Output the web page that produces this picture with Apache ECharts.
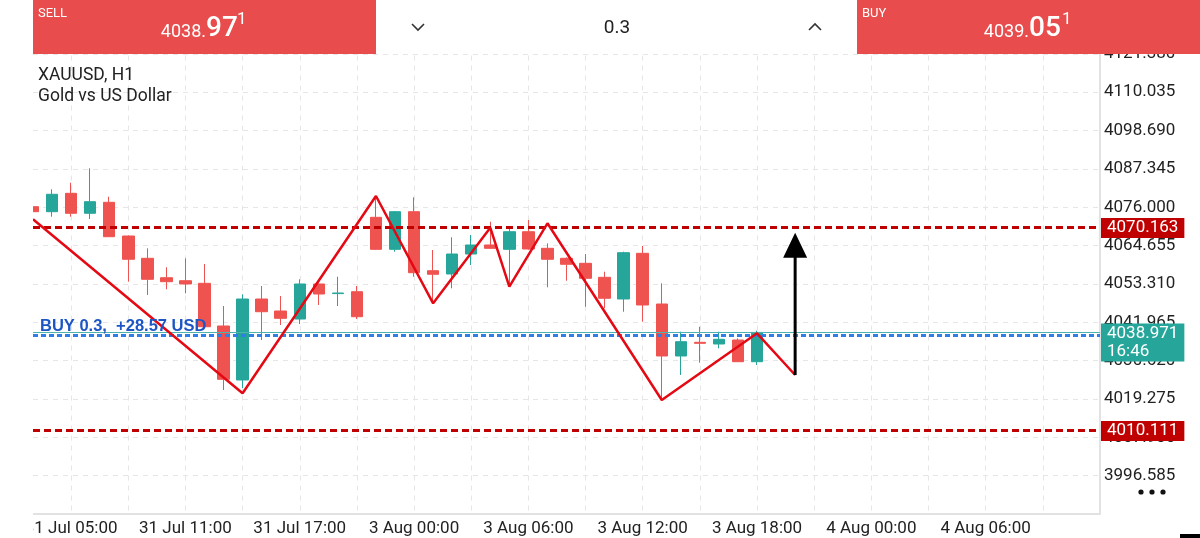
<!DOCTYPE html>
<html><head><meta charset="utf-8">
<script src="https://cdn.jsdelivr.net/npm/echarts@6/dist/echarts.min.js"></script>
<style>html,body{margin:0;padding:0;background:#fff}#c{width:1200px;height:538px}</style>
</head><body><div id="c"></div>
<script>
// ---------- data ----------
const categories = [
  '31 Jul 03:00','31 Jul 04:00','31 Jul 05:00','31 Jul 06:00','31 Jul 07:00','31 Jul 08:00',
  '31 Jul 09:00','31 Jul 10:00','31 Jul 11:00','31 Jul 12:00','31 Jul 13:00','31 Jul 14:00',
  '31 Jul 15:00','31 Jul 16:00','31 Jul 17:00','31 Jul 18:00','31 Jul 19:00','31 Jul 20:00',
  '2 Aug 22:00','2 Aug 23:00','3 Aug 00:00','3 Aug 01:00','3 Aug 02:00','3 Aug 03:00',
  '3 Aug 04:00','3 Aug 05:00','3 Aug 06:00','3 Aug 07:00','3 Aug 08:00','3 Aug 09:00',
  '3 Aug 10:00','3 Aug 11:00','3 Aug 12:00','3 Aug 13:00','3 Aug 14:00','3 Aug 15:00',
  '3 Aug 16:00','3 Aug 17:00','3 Aug 18:00','3 Aug 19:00','3 Aug 20:00','3 Aug 21:00',
  '3 Aug 22:00','3 Aug 23:00','4 Aug 00:00','4 Aug 01:00','4 Aug 02:00','4 Aug 03:00',
  '4 Aug 04:00','4 Aug 05:00','4 Aug 06:00','4 Aug 07:00','4 Aug 08:00','4 Aug 09:00',
  '4 Aug 10:00','4 Aug 11:00','4 Aug 12:00'
];
const openP  = [4076.17,4074.69,4080.13,4074.22,4077.47,4067.50,4060.90,4055.16,4054.27,4053.50,
                4040.87,4024.90,4048.86,4045.31,4042.94,4053.30,4050.46,4051.02,4073.03,4063.56,
                4074.69,4057.23,4056.26,4062.17,4064.84,4063.56,4068.77,4063.86,4060.90,4059.42,
                4055.28,4048.86,4062.38,4047.38,4032.00,4036.05,4035.55,4036.73,4030.31];
const closeP = [4074.69,4079.84,4074.22,4077.65,4067.29,4060.61,4054.69,4053.98,4053.30,4040.66,
                4025.10,4048.86,4045.10,4043.15,4053.30,4050.34,4050.64,4043.62,4063.56,4074.69,
                4056.64,4056.17,4062.17,4064.84,4063.86,4068.77,4063.65,4060.61,4059.13,4054.99,
                4049.07,4062.56,4047.09,4032.00,4036.23,4035.75,4036.94,4030.31,4038.97];
const lowP   = [4074.30,4073.21,4073.21,4072.53,4067.20,4053.98,4050.05,4051.73,4050.55,4040.58,
                4021.94,4022.53,4036.73,4041.17,4041.46,4047.09,4046.79,4042.94,4063.36,4062.86,
                4055.46,4047.77,4052.03,4058.92,4063.65,4052.50,4063.50,4052.32,4054.27,4046.58,
                4046.11,4045.10,4042.14,4018.98,4026.38,4030.02,4034.28,4030.22,4029.34];
const highP  = [4079.13,4081.32,4083.27,4087.53,4079.13,4067.65,4063.86,4058.24,4060.90,4059.22,
                4046.79,4050.25,4052.71,4049.75,4054.69,4053.45,4055.46,4052.71,4079.13,4074.90,
                4078.95,4063.36,4067.12,4067.80,4071.73,4070.25,4072.23,4065.34,4061.14,4062.17,
                4056.94,4062.86,4064.54,4053.50,4039.19,4040.66,4039.19,4037.23,4039.50];
const zigzagIdx = [0, 11, 18, 21, 24, 25, 27, 33, 38, 40];
const zigzagVal = [4072.44,4020.96,4079.33,4047.59,4069.96,4052.50,4071.26,4018.98,4038.71,4026.38];
const arrowIdx = 40, arrowFrom = 4026.38, arrowTo = 4068.48;
const yMin = 3985.24, yStep = 11.345, yMax = 4132.725;
const levelUpper = 4070.163, levelLower = 4010.111;
const bidPrice = 4038.971, bidTime = '16:46';
const buyOpen = 4038.02;
const buyLabel = 'BUY 0.3,  +28.57 USD';
const tagValues = [levelUpper, bidPrice, levelLower];
const tagTexts = ['4070.163', '4038.971\n' + bidTime, '4010.111'];
const symbolName = 'XAUUSD, H1', symbolDesc = 'Gold vs US Dollar';
const sellMain = '4038.', sellBig = '97', sellSup = '1';
const buyMain = '4039.', buyBig = '05', buySup = '1';
const lotText = '0.3';

// ---------- build ----------
const RED = '#ef5350', GREEN = '#26a69a', HDR = '#e84c4c', LVL = '#c00000';
const lastIdx = categories.length - 1;
const candleData = categories.map((c, i) => i < openP.length ? [openP[i], closeP[i], lowP[i], highP[i]] : '-');
const zigzagData = categories.map(() => null);
zigzagIdx.forEach((k, j) => { zigzagData[k] = zigzagVal[j]; });

const chart = echarts.init(document.getElementById('c'), null, {renderer: 'canvas'});
const FONT = 'Roboto';

const option = {
  animation: false,
  backgroundColor: '#fff',
  grid: {left: 33, right: 100, top: 15.54, bottom: 23.96, containLabel: false},
  xAxis: {
    type: 'category', data: categories, boundaryGap: false,
    axisLine: {show: true, lineStyle: {color: '#e2e2e2', width: 2}},
    axisTick: {show: false},
    axisLabel: {
      color: '#222', fontSize: 17, fontFamily: FONT, margin: 6,
      interval: (i) => i % 6 === 2 && i <= 50
    },
    splitLine: {show: true, interval: (i) => i % 3 === 2,
      lineStyle: {color: '#e6e6e6', type: [5, 5], width: 1}}
  },
  yAxis: {
    type: 'value', position: 'right', min: yMin, max: yMax, interval: yStep, scale: true,
    axisLine: {show: true, lineStyle: {color: '#e2e2e2', width: 2}},
    axisTick: {show: false},
    axisLabel: {color: '#222', fontSize: 17, fontFamily: FONT, margin: 4, showMinLabel: false,
      formatter: (v) => v.toFixed(3)},
    splitLine: {show: true, lineStyle: {color: '#e6e6e6', type: [5, 5], width: 1}}
  },
  series: [
    {
      type: 'candlestick', data: candleData, barWidth: 12,
      itemStyle: {color: GREEN, color0: RED, borderColor: GREEN, borderColor0: RED, borderWidth: 1},
      markLine: {
        silent: true, animation: false, symbol: ['none', 'none'], label: {show: false},
        data: [
          {yAxis: levelUpper, lineStyle: {color: LVL, width: 3, type: [7, 4]}},
          {yAxis: levelLower, lineStyle: {color: LVL, width: 3, type: [7, 4]}},
          {yAxis: bidPrice, lineStyle: {color: '#4fb3ad', width: 1, type: 'solid'}},
          {yAxis: buyOpen, lineStyle: {color: '#2f7fe6', width: 3, type: [5, 3]}}
        ]
      }
    },
    {
      type: 'line', data: zigzagData, connectNulls: true, symbol: 'none', z: 5,
      lineStyle: {color: '#e50914', width: 2.5}
    },
    {
      type: 'custom', z: 6, data: [[arrowIdx, arrowFrom, arrowTo]],
      renderItem: (params, api) => {
        const b = api.coord([api.value(0), api.value(1)]);
        const t = api.coord([api.value(0), api.value(2)]);
        const hh = 25, hw = 12;
        return {type: 'group', children: [
          {type: 'line', shape: {x1: b[0], y1: b[1], x2: t[0], y2: t[1] + hh - 1},
           style: {stroke: '#000', lineWidth: 3}},
          {type: 'polygon', shape: {points: [[t[0], t[1]], [t[0] - hw, t[1] + hh], [t[0] + hw, t[1] + hh]]},
           style: {fill: '#000'}}
        ]};
      }
    },
    {
      type: 'custom', z: 8, data: [[0, buyOpen]],
      renderItem: (params, api) => {
        const p = api.coord([api.value(0), api.value(1)]);
        return {type: 'text', x: p[0] + 7, y: p[1] - 1,
          style: {text: buyLabel, fill: '#1d56c4', font: 'bold 16.5px "Liberation Sans", Arial, sans-serif',
            align: 'left', verticalAlign: 'bottom'}};
      }
    },
    {
      type: 'custom', z: 10, data: tagValues.map(v => [lastIdx, v]),
      renderItem: (params, api) => {
        const i = params.dataIndex;
        const p = api.coord([api.value(0), api.value(1)]);
        const teal = i === 1;
        return {type: 'text', x: p[0] + 1, y: teal ? p[1] - 9 : p[1] + 1,
          style: {text: tagTexts[i], fill: '#fff', font: '17px Roboto',
            backgroundColor: teal ? GREEN : LVL, padding: [1, 6, 1, 6], lineHeight: 18,
            align: 'left', verticalAlign: teal ? 'top' : 'middle'}};
      }
    }
  ],
  graphic: [
    {type: 'rect', z: 100, shape: {x: 0, y: 0, width: 33, height: 538}, style: {fill: '#fff'}},
    {type: 'rect', z: 100, shape: {x: 33, y: 0, width: 343, height: 54}, style: {fill: HDR}},
    {type: 'rect', z: 100, shape: {x: 376, y: 0, width: 481, height: 54}, style: {fill: '#fff'}},
    {type: 'rect', z: 100, shape: {x: 857, y: 0, width: 343, height: 54}, style: {fill: HDR}},
    {type: 'text', z: 101, x: 38, y: 7, style: {text: 'SELL', fill: '#fff', font: '13px Roboto'}},
    {type: 'text', z: 101, x: 206, y: 41, style: {text: sellMain, fill: '#fff', font: '18px Roboto', align: 'right', verticalAlign: 'bottom'}},
    {type: 'text', z: 101, x: 206, y: 43, style: {text: sellBig, fill: '#fff', font: '500 28px Roboto', align: 'left', verticalAlign: 'bottom'}},
    {type: 'text', z: 101, x: 237, y: 28, style: {text: sellSup, fill: '#fff', font: '17px Roboto', align: 'left', verticalAlign: 'bottom'}},
    {type: 'text', z: 101, x: 862, y: 7, style: {text: 'BUY', fill: '#fff', font: '13px Roboto'}},
    {type: 'text', z: 101, x: 1029, y: 41, style: {text: buyMain, fill: '#fff', font: '18px Roboto', align: 'right', verticalAlign: 'bottom'}},
    {type: 'text', z: 101, x: 1029, y: 43, style: {text: buyBig, fill: '#fff', font: '500 28px Roboto', align: 'left', verticalAlign: 'bottom'}},
    {type: 'text', z: 101, x: 1062, y: 28, style: {text: buySup, fill: '#fff', font: '17px Roboto', align: 'left', verticalAlign: 'bottom'}},
    {type: 'text', z: 101, x: 617, y: 28, style: {text: lotText, fill: '#222', font: '19px Roboto', align: 'center', verticalAlign: 'middle'}},
    {type: 'polyline', z: 101, shape: {points: [[412, 24], [418, 30], [424, 24]]}, style: {stroke: '#333', lineWidth: 1.6, fill: null}},
    {type: 'polyline', z: 101, shape: {points: [[809, 30], [815, 24], [821, 30]]}, style: {stroke: '#333', lineWidth: 1.6, fill: null}},
    {type: 'text', z: 101, x: 38, y: 67, style: {text: symbolName, fill: '#222', font: '17.5px Roboto'}},
    {type: 'text', z: 101, x: 38, y: 88, style: {text: symbolDesc, fill: '#222', font: '17.5px Roboto'}},
    {type: 'circle', z: 101, shape: {cx: 1141, cy: 492, r: 2.6}, style: {fill: '#111'}},
    {type: 'circle', z: 101, shape: {cx: 1152, cy: 492, r: 2.6}, style: {fill: '#111'}},
    {type: 'circle', z: 101, shape: {cx: 1163, cy: 492, r: 2.6}, style: {fill: '#111'}},
    {type: 'rect', z: 101, shape: {x: 1180, y: 534, width: 20, height: 4}, style: {fill: '#000'}}
  ]
};
chart.setOption(option);
</script></body></html>
